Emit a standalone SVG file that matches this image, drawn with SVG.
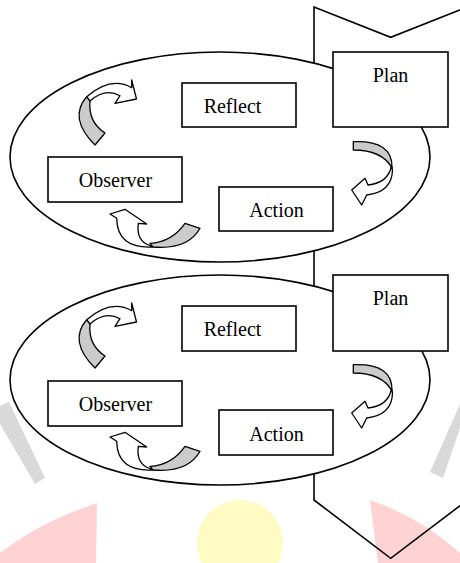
<svg xmlns="http://www.w3.org/2000/svg" width="460" height="563" viewBox="0 0 460 563">
<style>
.ell{fill:#fff;stroke:#000;stroke-width:1.6}
.box{fill:#fff;stroke:#000;stroke-width:1.6}
.chev{fill:none;stroke:#000;stroke-width:1.6;stroke-linejoin:miter}
.lbl{font-family:"Liberation Serif","Times New Roman",serif;font-size:20px;fill:#000;text-anchor:middle}
.back{fill:#cbcbcb;stroke:#000;stroke-width:1.3;stroke-linejoin:round}
.front{fill:#fff;stroke:#000;stroke-width:1.3;stroke-linejoin:round}
.wm-g{fill:#d9d9d9}
.wm-r{fill:#ffd3d3}
.wm-y{fill:#fffbc2}
</style>
<defs>
<g id="arrows">
<path class="back" d="M95,145 Q68,118 86.7,96.7 L90,101 Q88,122 105,133 Z"/>
<path class="front" d="M86.7,96.7 Q110.8,75.8 131.7,87.7 L131.7,80 L136.5,99 L115,103.3 L120,95.7 Q105,87.6 90,101 Z"/>
<path class="back" d="M353.3,141.7 Q393,140 392,168 Q382,150 353.3,150 Z"/>
<path class="front" d="M391.5,166 Q388,183 368,185 L365,178.3 L351.7,190 L361.7,205 L366.7,195 Q392,192 392.5,170 Z"/>
<path class="back" d="M185,223.3 L200,228.3 Q188,250 153,247 L150,243.3 Q172,242 185,223.3 Z"/>
<path class="front" d="M153,247 Q117,249 116.7,218.3 L110,214 L125,209.3 L146.7,224 L138.3,223.3 Q136,241 150,245.5 Z"/>
</g>
</defs>
<g id="watermark">
<polygon class="wm-g" points="0,406 9,402 45,478 35,484 0,424"/>
<polygon class="wm-g" points="460,404 460,428 443,478 430,472"/>
<path class="wm-r" d="M97,503 L96,563 L0,563 L0,553 Q40,522 97,503 Z"/>
<path class="wm-r" d="M370,500 L378,563 L460,563 L460,553 Q420,517 370,500 Z"/>
<circle class="wm-y" cx="240" cy="543" r="43"/>
</g>
<g id="chevron">
<polygon class="chev" points="314,7 390.7,37.3 467.5,7 467.5,500 390.7,558.3 314,500"/>
</g>
<g id="cycle1">
<g id="ellipse1"><ellipse class="ell" cx="220" cy="157" rx="210" ry="105"/></g>
<g id="plan1"><rect class="box" x="333" y="52" width="115" height="75"/><text class="lbl" x="390.5" y="82">Plan</text></g>
<g id="reflect1"><rect class="box" x="182" y="83" width="114" height="44"/><text class="lbl" x="232.5" y="113">Reflect</text></g>
<g id="observer1"><rect class="box" x="48" y="157" width="134" height="45"/><text class="lbl" x="115.5" y="187">Observer</text></g>
<g id="action1"><rect class="box" x="219" y="187" width="114" height="44"/><text class="lbl" x="276.5" y="217">Action</text></g>
</g>
<g id="cycle2">
<g id="ellipse2"><ellipse class="ell" cx="220" cy="380" rx="210" ry="105"/></g>
<g id="plan2"><rect class="box" x="333" y="275" width="115" height="76"/><text class="lbl" x="390.5" y="305">Plan</text></g>
<g id="reflect2"><rect class="box" x="182" y="306" width="114" height="45"/><text class="lbl" x="232.5" y="336">Reflect</text></g>
<g id="observer2"><rect class="box" x="48" y="381" width="134" height="45"/><text class="lbl" x="115.5" y="411">Observer</text></g>
<g id="action2"><rect class="box" x="219" y="410" width="114" height="45"/><text class="lbl" x="276.5" y="441">Action</text></g>
</g>
<g id="connectors">
<use href="#arrows"/>
<use href="#arrows" transform="translate(0,223)"/>
</g>
</svg>
